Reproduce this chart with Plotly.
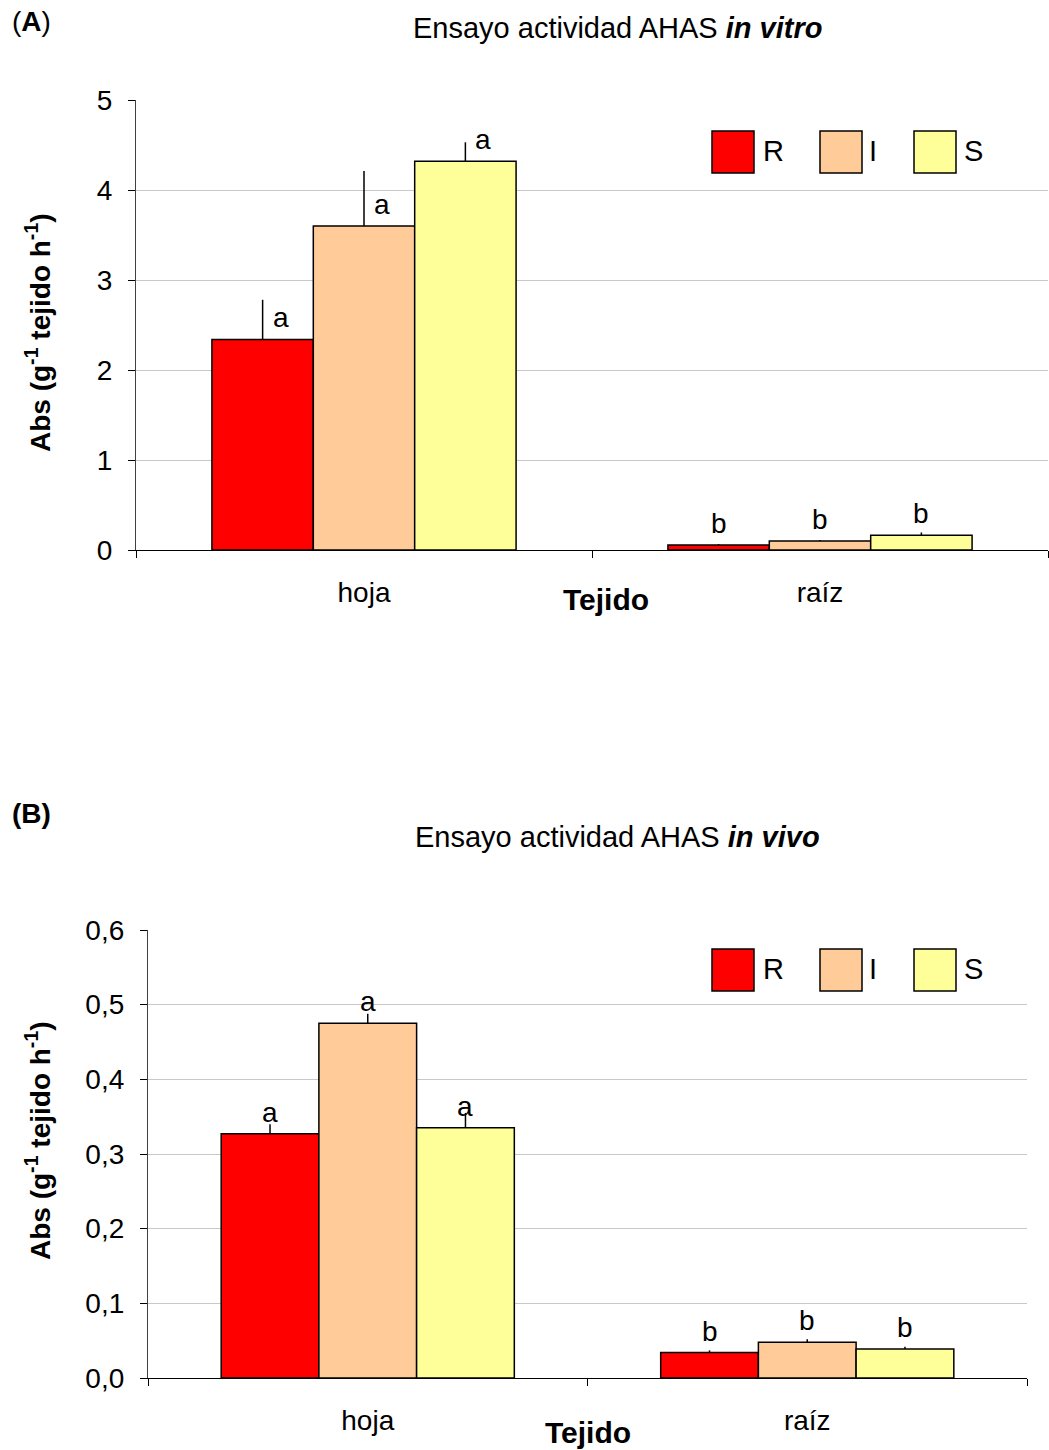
import plotly.graph_objects as go

W, H = 1049, 1450

# --- data -------------------------------------------------------------
tejidos = ["hoja", "raíz"]
biotipos = ["R", "I", "S"]
colores = ["#FF0000", "#FFCC99", "#FFFF99"]

# (A) in vitro: mean absorbance and upper error per tissue (hoja, raíz)
vitro_R = [2.34, 0.056]
vitro_I = [3.60, 0.100]
vitro_S = [4.32, 0.165]
vitro_err_R = [0.44, 0.010]
vitro_err_I = [0.61, 0.012]
vitro_err_S = [0.21, 0.030]
vitro_letras_R = ["a", "b"]
vitro_letras_I = ["a", "b"]
vitro_letras_S = ["a", "b"]

# (B) in vivo
vivo_R = [0.327, 0.034]
vivo_I = [0.475, 0.048]
vivo_S = [0.335, 0.039]
vivo_err_R = [0.013, 0.003]
vivo_err_I = [0.013, 0.004]
vivo_err_S = [0.020, 0.003]
vivo_letras_R = ["a", "b"]
vivo_letras_I = ["a", "b"]
vivo_letras_S = ["a", "b"]

vitro_ticks = [0, 1, 2, 3, 4, 5]
vivo_ticks = [0, 0.1, 0.2, 0.3, 0.4, 0.5, 0.6]

# --- helpers ----------------------------------------------------------
FONT = "Arial, Liberation Sans, sans-serif"
FS = 28
BAR_W = 0.667 / 3


def px(x):
    return x / W


def py(y):
    return 1 - y / H


fig = go.Figure()
annotations = []
shapes = []

paneles = [
    dict(ax="", medias=[vitro_R, vitro_I, vitro_S],
         errs=[vitro_err_R, vitro_err_I, vitro_err_S],
         letras=[vitro_letras_R, vitro_letras_I, vitro_letras_S],
         ticks=vitro_ticks, rango=[0, 5], fmt="d",
         xdom=[136, 1048], ydom=[100, 550], letra_dx=[18, 0]),
    dict(ax="2", medias=[vivo_R, vivo_I, vivo_S],
         errs=[vivo_err_R, vivo_err_I, vivo_err_S],
         letras=[vivo_letras_R, vivo_letras_I, vivo_letras_S],
         ticks=vivo_ticks, rango=[0, 0.6], fmt=".1f",
         xdom=[148, 1027], ydom=[930, 1378], letra_dx=[0, 0]),
]

for p in paneles:
    xa, ya = "x" + p["ax"], "y" + p["ax"]
    for j, (nombre, color) in enumerate(zip(biotipos, colores)):
        xs = [i + (j - 1) * BAR_W for i in range(len(tejidos))]
        fig.add_trace(go.Bar(
            x=xs, y=p["medias"][j], width=BAR_W, name=nombre,
            marker=dict(color=color, line=dict(color="black", width=1.5)),
            error_y=dict(type="data", symmetric=False, array=p["errs"][j],
                         arrayminus=[0] * len(xs), color="black",
                         thickness=1.5, width=0),
            xaxis=xa, yaxis=ya, showlegend=False,
        ))
        for i, (xv, yv, lt) in enumerate(zip(xs, p["medias"][j], p["letras"][j])):
            annotations.append(dict(
                x=xv, y=yv, xref=xa, yref=ya, text=lt, showarrow=False,
                yanchor="bottom", yshift=4, xshift=p["letra_dx"][i],
                font=dict(size=FS, family=FONT, color="black")))

    ax_key = "xaxis" + p["ax"]
    ay_key = "yaxis" + p["ax"]
    fig.update_layout({
        ax_key: dict(
            domain=[px(p["xdom"][0]), px(p["xdom"][1])],
            anchor=ya, range=[-0.5, 1.5], automargin=False,
            tickmode="array", tickvals=[0, 1], ticktext=tejidos,
            ticks="", ticklabelstandoff=17,
            tickfont=dict(size=FS, family=FONT, color="black"),
            showline=True, linecolor="black", linewidth=1.3,
            showgrid=False, zeroline=False,
            minor=dict(tickmode="array", tickvals=[-0.5, 0.5, 1.5],
                       ticks="outside", ticklen=7, tickcolor="black",
                       tickwidth=1.3, showgrid=False),
        ),
        ay_key: dict(
            domain=[py(p["ydom"][1]), py(p["ydom"][0])],
            anchor=xa, range=p["rango"], automargin=False,
            tickmode="array", tickvals=p["ticks"], tickformat=p["fmt"],
            ticks="outside", ticklen=7, tickcolor="black", tickwidth=1.3,
            ticklabelstandoff=10,
            tickfont=dict(size=FS, family=FONT, color="black"),
            showline=True, linecolor="#404040", linewidth=1.3,
            showgrid=True, gridcolor="#C8C8C8", gridwidth=1,
            zeroline=False,
        ),
    })

# --- manual legends (large square swatches) --------------------------
for ytop in (131, 949):
    for (x0, xl, nombre, color) in [(712, 761, "R", colores[0]),
                                    (820, 867, "I", colores[1]),
                                    (914, 962, "S", colores[2])]:
        shapes.append(dict(type="rect", xref="paper", yref="paper",
                           x0=px(x0), x1=px(x0 + 42), y0=py(ytop + 42), y1=py(ytop),
                           fillcolor=color, line=dict(color="black", width=1.5)))
        annotations.append(dict(x=px(xl), y=py(ytop + 20), xref="paper", yref="paper",
                                text=nombre, showarrow=False, xanchor="left",
                                yanchor="middle",
                                font=dict(size=FS + 1, family=FONT, color="black")))

# --- titles and labels ------------------------------------------------
ytitle = "<b>Abs (g<sup>-1</sup> tejido h<sup>-1</sup>)</b>"
textos = [
    dict(x=617, y=28, text="Ensayo actividad AHAS <b><i>in vitro</i></b>", size=29),
    dict(x=617, y=837, text="Ensayo actividad AHAS <b><i>in vivo</i></b>", size=29),
    dict(x=10, y=22, text="(<b>A</b>)", xanchor="left"),
    dict(x=10, y=813, text="(B)", xanchor="left", weight="bold"),
    dict(x=606, y=600, text="Tejido", weight="bold", size=30),
    dict(x=588, y=1432, text="Tejido", weight="bold", size=30),
    dict(x=38, y=333, text=ytitle, textangle=-90),
    dict(x=38, y=1141, text=ytitle, textangle=-90),
]
for t in textos:
    ann = dict(
        x=px(t["x"]), y=py(t["y"]), xref="paper", yref="paper",
        text=t["text"], showarrow=False, xanchor=t.get("xanchor", "center"),
        yanchor="middle",
        font=dict(size=t.get("size", FS), family=FONT, color="black",
                  weight=t.get("weight", "normal")))
    if "textangle" in t:
        ann["textangle"] = t["textangle"]
    annotations.append(ann)

fig.update_layout(
    width=W, height=H, autosize=False,
    margin=dict(l=0, r=0, t=0, b=0, pad=0, autoexpand=False),
    paper_bgcolor="white", plot_bgcolor="white",
    separators=", ",
    barmode="overlay",
    showlegend=False,
    annotations=annotations, shapes=shapes,
    font=dict(family=FONT, size=FS, color="black"),
)

fig.write_html("out.html")
